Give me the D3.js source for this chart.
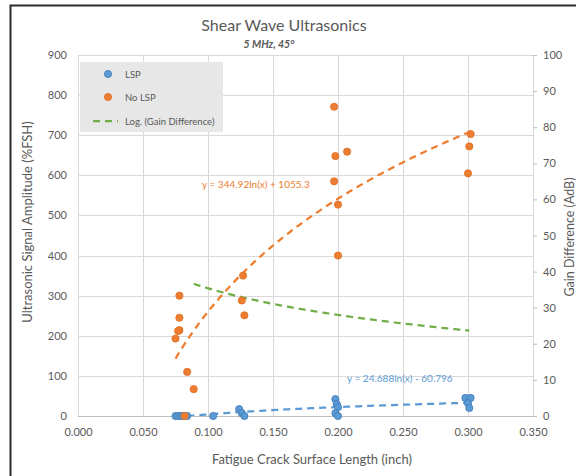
<!DOCTYPE html>
<html>
<head>
<meta charset="utf-8">
<script src="https://cdn.jsdelivr.net/npm/d3@7"></script>
<style>
  html, body { margin: 0; padding: 0; background: #fff; }
  svg { display: block; font-family: Lato, "Open Sans", sans-serif; }
</style>
</head>
<body>
<svg id="chart" width="576" height="476"></svg>
<script>
// ---- data ----
const xTicks = [0, 0.05, 0.10, 0.15, 0.20, 0.25, 0.30, 0.35];
const leftTicks = [0, 100, 200, 300, 400, 500, 600, 700, 800, 900];
const rightTicks = [0, 10, 20, 30, 40, 50, 60, 70, 80, 90, 100];

// LSP: crack length (inch) and signal amplitude (%FSH)
const lspX = [0.075, 0.077, 0.079, 0.081, 0.084, 0.104, 0.124, 0.126, 0.128,
              0.198, 0.199, 0.200, 0.198, 0.200, 0.298, 0.302, 0.300, 0.301];
const lspY = [0, 0, 0, 0, 0, 0, 17, 7, 0,
              42, 30, 22, 7, 0, 45, 45, 32, 20];

// No LSP: crack length (inch) and signal amplitude (%FSH)
const noLspX = [0.078, 0.078, 0.078, 0.077, 0.075, 0.084, 0.089, 0.082,
                0.127, 0.126, 0.128,
                0.200, 0.197, 0.198, 0.207, 0.197, 0.200,
                0.302, 0.301, 0.300];
const noLspY = [300, 245, 214, 212, 193, 110, 67, 0,
                350, 288, 251,
                400, 771, 648, 659, 585, 527,
                703, 672, 605];

// Logarithmic trend of the gain difference (dB), y = slope*ln(x) + intercept
const gainTrendCoef = [-10.64, 10.88];
const gainTrendRange = [0.089, 0.301];

const legendLabels = ["LSP", "No LSP", "Log. (Gain Difference)"];
const eqLabels = ["y = 344.92ln(x) + 1055.3", "y = 24.688ln(x) - 60.796"];

// ---- colours ----
const BLUE = "#5b9bd5", BLUE_EDGE = "#3f78b8";
const ORANGE = "#ed7d31", ORANGE_EDGE = "#e06c1e";
const GREEN = "#70ad47";
const GRID = "#d9d9d9", TEXT = "#595959";

// ---- scales ----
const x = d3.scaleLinear().domain([0, 0.35]).range([78, 533]);
const yL = d3.scaleLinear().domain([0, 900]).range([416, 55]);
const yR = d3.scaleLinear().domain([0, 100]).range([416, 55]);

const svg = d3.select("#chart");

// chart frame
svg.append("path")
  .attr("d", "M10.5,476 V5.5 H576")
  .attr("fill", "none").attr("stroke", "#2b2b2b").attr("stroke-width", 2);

svg.append("defs").append("clipPath").attr("id", "plot")
  .append("rect").attr("x", 78).attr("y", 55).attr("width", 455).attr("height", 361);

// gridlines
const grid = svg.append("g");
grid.selectAll("line.h").data(leftTicks).join("line")
  .attr("x1", 78).attr("x2", 533)
  .attr("y1", d => Math.round(yL(d)) + 0.5).attr("y2", d => Math.round(yL(d)) + 0.5)
  .attr("stroke", d => d === 0 ? "#bfbfbf" : GRID).attr("stroke-width", 1);
grid.selectAll("line.v").data(xTicks).join("line")
  .attr("x1", d => Math.round(x(d)) + 0.5).attr("x2", d => Math.round(x(d)) + 0.5)
  .attr("y1", 55).attr("y2", 416)
  .attr("stroke", GRID).attr("stroke-width", 1);

// axes
const axL = svg.append("g").attr("transform", "translate(78,0)")
  .call(d3.axisLeft(yL).tickValues(leftTicks).tickSize(0).tickPadding(11));
const axB = svg.append("g").attr("transform", "translate(0,416)")
  .call(d3.axisBottom(x).tickValues(xTicks).tickFormat(d3.format(".3f")).tickSize(0).tickPadding(12));
const axR = svg.append("g").attr("transform", "translate(533,0)")
  .call(d3.axisRight(yR).tickValues(rightTicks).tickSize(4).tickPadding(6));
[axL, axB, axR].forEach(g => {
  g.select(".domain").remove();
  g.selectAll("text").attr("fill", TEXT).style("font-size", "11px")
    .style("font-family", "Lato, sans-serif");
  g.selectAll("line").attr("stroke", "#bfbfbf");
});

// log least-squares fit y = a*ln(x) + b
function logFit(xs, ys) {
  const n = xs.length;
  const lx = xs.map(Math.log);
  const mx = d3.mean(lx), my = d3.mean(ys);
  let sxy = 0, sxx = 0;
  for (let i = 0; i < n; i++) {
    sxy += (lx[i] - mx) * (ys[i] - my);
    sxx += (lx[i] - mx) * (lx[i] - mx);
  }
  const a = sxy / sxx;
  return [a, my - a * mx];
}

function trendPath(coef, range, yScale) {
  const xs = d3.range(0, 101).map(i => range[0] + (range[1] - range[0]) * i / 100);
  return d3.line()
    .x(d => x(d))
    .y(d => yScale(coef[0] * Math.log(d) + coef[1]))(xs);
}

const plot = svg.append("g").attr("clip-path", "url(#plot)");

// markers: LSP then No LSP
const lsp = lspX.map((v, i) => [v, lspY[i]]);
const noLsp = noLspX.map((v, i) => [v, noLspY[i]]);

svg.append("g").selectAll("circle").data(lsp).join("circle")
  .attr("cx", d => x(d[0])).attr("cy", d => yL(d[1])).attr("r", 3.6)
  .attr("fill", BLUE).attr("stroke", BLUE_EDGE).attr("stroke-width", 0.8);
svg.append("g").selectAll("circle").data(noLsp).join("circle")
  .attr("cx", d => x(d[0])).attr("cy", d => yL(d[1])).attr("r", 3.6)
  .attr("fill", ORANGE).attr("stroke", ORANGE_EDGE).attr("stroke-width", 0.8);

// trendlines
const lspFit = logFit(lspX, lspY);
const noLspFit = logFit(noLspX, noLspY);
const dash = "7,5";
plot.append("path").attr("d", trendPath(lspFit, d3.extent(lspX), yL))
  .attr("fill", "none").attr("stroke", BLUE).attr("stroke-width", 2.25).attr("stroke-dasharray", dash);
plot.append("path").attr("d", trendPath(noLspFit, d3.extent(noLspX), yL))
  .attr("fill", "none").attr("stroke", ORANGE).attr("stroke-width", 2.25).attr("stroke-dasharray", dash);
plot.append("path").attr("d", trendPath(gainTrendCoef, gainTrendRange, yR))
  .attr("fill", "none").attr("stroke", GREEN).attr("stroke-width", 2.25).attr("stroke-dasharray", dash);

// trendline equations
svg.append("text").attr("x", 202).attr("y", 188).text(eqLabels[0])
  .attr("fill", ORANGE).style("font-size", "10px");
svg.append("text").attr("x", 347).attr("y", 382).text(eqLabels[1])
  .attr("fill", BLUE).style("font-size", "10px");

// titles
svg.append("text").attr("x", 284).attr("y", 31).attr("text-anchor", "middle")
  .attr("fill", TEXT).style("font-size", "16px").text("Shear Wave Ultrasonics");
svg.append("text").attr("x", 269).attr("y", 48).attr("text-anchor", "middle")
  .attr("fill", TEXT).style("font-size", "10.5px").style("font-weight", "bold")
  .style("font-style", "italic").text("5 MHz, 45°");

svg.append("text").attr("transform", "translate(32,222) rotate(-90)")
  .attr("text-anchor", "middle").attr("fill", TEXT).style("font-size", "13px")
  .text("Ultrasonic Signal Amplitude  (%FSH)");
svg.append("text").attr("transform", "translate(574,237) rotate(-90)")
  .attr("text-anchor", "middle").attr("fill", TEXT).style("font-size", "12.5px")
  .text("Gain Difference (AdB)");
svg.append("text").attr("x", 312).attr("y", 464).attr("text-anchor", "middle")
  .attr("fill", TEXT).style("font-size", "13px")
  .text("Fatigue Crack Surface Length (inch)");

// legend
const lg = svg.append("g");
lg.append("rect").attr("x", 80).attr("y", 62).attr("width", 143).attr("height", 70)
  .attr("fill", "#e7e7e7");
const rows = [74, 97, 121];
lg.append("circle").attr("cx", 108).attr("cy", rows[0]).attr("r", 3.6)
  .attr("fill", BLUE).attr("stroke", BLUE_EDGE).attr("stroke-width", 0.8);
lg.append("circle").attr("cx", 108).attr("cy", rows[1]).attr("r", 3.6)
  .attr("fill", ORANGE).attr("stroke", ORANGE_EDGE).attr("stroke-width", 0.8);
lg.append("line").attr("x1", 93).attr("x2", 118).attr("y1", rows[2]).attr("y2", rows[2])
  .attr("stroke", GREEN).attr("stroke-width", 2.25).attr("stroke-dasharray", dash);
lg.selectAll("text").data(legendLabels).join("text")
  .attr("x", 125).attr("y", (d, i) => rows[i] + 3.5)
  .attr("fill", TEXT).style("font-size", "9.5px").text(d => d);
</script>
</body>
</html>
